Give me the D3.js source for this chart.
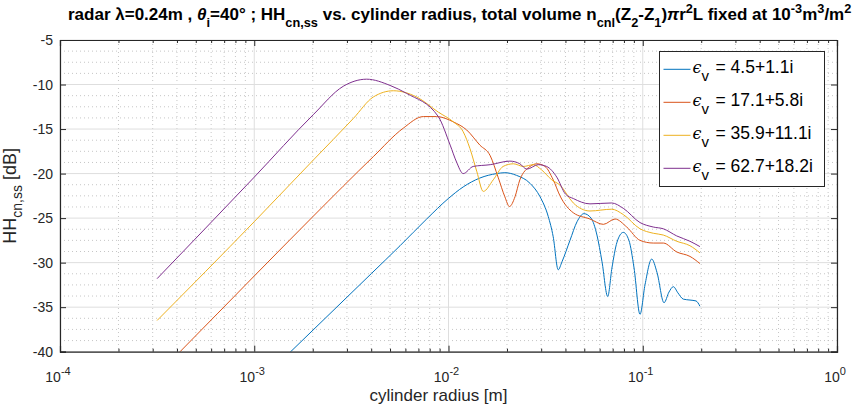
<!DOCTYPE html>
<html>
<head>
<meta charset="utf-8">
<script src="https://cdn.jsdelivr.net/npm/d3@7"></script>
<style>
  body { margin: 0; background: #fff; }
  svg text { font-family: "Liberation Sans", Arial, sans-serif; }
</style>
</head>
<body>
<div id="container"></div>
<script>
// values: cylinder radius [m] and HH_cn,ss [dB]
const legendLabels = ["4.5+1.1i", "17.1+5.8i", "35.9+11.1i", "62.7+18.2i"];
const colors = ["#0072BD", "#D95319", "#EDB120", "#7E2F8E"];

const blueR = [3.16e-4, 1.54e-3, 4.02e-3, 5.63e-3, 7.72e-3, 9.98e-3, 1.19e-2, 1.45e-2, 1.77e-2, 1.95e-2, 2.24e-2, 2.63e-2, 2.96e-2, 3.26e-2, 3.46e-2, 3.67e-2, 3.84e-2, 4.22e-2, 4.59e-2, 4.98e-2, 5.42e-2, 5.81e-2, 6.17e-2, 6.60e-2, 6.94e-2, 7.37e-2, 7.94e-2, 8.49e-2, 9.02e-2, 9.68e-2, 0.1027, 0.1112, 0.1184, 0.1287, 0.1365, 0.1437, 0.1518, 0.1618, 0.175, 0.188, 0.197];
const blueDb = [-54.5, -40.0, -31.2, -28.1, -25.1, -22.8, -21.5, -20.5, -20.0, -19.9, -20.2, -21.1, -22.6, -24.8, -27.1, -30.8, -29.9, -27.5, -25.4, -24.5, -25.0, -26.9, -29.9, -33.8, -30.6, -27.7, -26.6, -27.5, -30.6, -35.8, -32.5, -29.6, -31.1, -34.5, -33.3, -32.7, -33.4, -34.1, -34.2, -34.3, -34.9];

const orangeR = [3.16e-4, 4.15e-4, 1.0e-3, 2.01e-3, 4.10e-3, 5.85e-3, 7.42e-3, 8.69e-3, 1.06e-2, 1.24e-2, 1.45e-2, 1.64e-2, 1.80e-2, 1.95e-2, 2.06e-2, 2.20e-2, 2.33e-2, 2.63e-2, 2.85e-2, 3.14e-2, 3.46e-2, 3.75e-2, 4.39e-2, 5.35e-2, 6.27e-2, 7.20e-2, 8.27e-2, 9.68e-2, 0.1133, 0.1276, 0.1496, 0.175, 0.197];
const orangeDb = [-42.6, -40.0, -31.5, -24.8, -18.1, -14.9, -13.6, -13.6, -14.2, -15.1, -16.8, -18.0, -20.4, -22.6, -23.7, -22.6, -20.7, -19.2, -18.9, -19.2, -20.7, -22.5, -24.4, -25.1, -25.7, -25.1, -26.0, -27.5, -27.8, -27.8, -28.8, -29.3, -30.1];

const yellowR = [3.16e-4, 1.0e-3, 2.01e-3, 3.24e-3, 4.10e-3, 5.20e-3, 6.86e-3, 8.86e-3, 1.06e-2, 1.19e-2, 1.29e-2, 1.40e-2, 1.51e-2, 1.70e-2, 1.91e-2, 2.16e-2, 2.43e-2, 2.73e-2, 3.02e-2, 3.40e-2, 3.75e-2, 4.39e-2, 5.35e-2, 6.92e-2, 7.94e-2, 9.68e-2, 0.1133, 0.1276, 0.1496, 0.175, 0.197];
const yellowDb = [-36.5, -25.4, -18.5, -13.8, -11.4, -10.7, -11.4, -13.1, -14.2, -15.3, -17.2, -19.8, -22.0, -20.7, -19.2, -18.9, -19.2, -19.0, -19.6, -20.7, -21.3, -23.3, -24.2, -24.0, -24.6, -26.2, -26.7, -26.9, -27.6, -28.1, -28.9];

const purpleR = [3.16e-4, 1.0e-3, 2.01e-3, 2.87e-3, 3.79e-3, 5.0e-3, 6.09e-3, 8.86e-3, 1.02e-2, 1.10e-2, 1.19e-2, 1.34e-2, 1.64e-2, 2.07e-2, 2.33e-2, 2.53e-2, 2.90e-2, 3.20e-2, 3.61e-2, 4.0e-2, 4.39e-2, 5.35e-2, 6.92e-2, 7.94e-2, 9.68e-2, 0.1133, 0.1276, 0.1496, 0.175, 0.197];
const purpleDb = [-31.8, -20.4, -13.4, -10.2, -9.4, -10.1, -11.0, -13.6, -16.8, -18.7, -20.0, -19.2, -19.0, -18.6, -18.9, -19.5, -19.0, -19.2, -20.4, -22.3, -22.8, -23.4, -23.3, -23.9, -25.5, -26.0, -26.2, -27.0, -27.6, -28.2];

const xTickExp = [-4, -3, -2, -1, 0];
const yTicks = [-40, -35, -30, -25, -20, -15, -10, -5];

const series = [
  { r: blueR, db: blueDb },
  { r: orangeR, db: orangeDb },
  { r: yellowR, db: yellowDb },
  { r: purpleR, db: purpleDb }
];

const W = 858, H = 412;
const plot = { left: 60, right: 837, top: 40, bottom: 351.7 };

const svg = d3.select("#container").append("svg")
  .attr("width", W).attr("height", H);

const x = d3.scaleLog().domain([1e-4, 1]).range([plot.left, plot.right]);
const y = d3.scaleLinear().domain([-40, -5]).range([plot.bottom, plot.top]);

// grid: minor dotted first, then major solid
const minorX = [];
for (let e = -4; e < 0; e++) for (let m = 2; m <= 9; m++) minorX.push(m * Math.pow(10, e));
const minorY = [];
for (let v = -40; v <= -5; v += 1.25) if (v % 5 !== 0) minorY.push(v);

const grid = svg.append("g");
grid.selectAll(".mx").data(minorX).join("line")
  .attr("x1", d => x(d)).attr("x2", d => x(d))
  .attr("y1", plot.top).attr("y2", plot.bottom)
  .attr("stroke", "#b8b8b8").attr("stroke-width", 0.8).attr("stroke-dasharray", "1,3");
grid.selectAll(".my").data(minorY).join("line")
  .attr("x1", plot.left).attr("x2", plot.right)
  .attr("y1", d => y(d)).attr("y2", d => y(d))
  .attr("stroke", "#b8b8b8").attr("stroke-width", 0.8).attr("stroke-dasharray", "1,3");
grid.selectAll(".gx").data(xTickExp.map(e => Math.pow(10, e))).join("line")
  .attr("x1", d => x(d)).attr("x2", d => x(d))
  .attr("y1", plot.top).attr("y2", plot.bottom)
  .attr("stroke", "#dedede").attr("stroke-width", 1);
grid.selectAll(".gy").data(yTicks).join("line")
  .attr("x1", plot.left).attr("x2", plot.right)
  .attr("y1", d => y(d)).attr("y2", d => y(d))
  .attr("stroke", "#dedede").attr("stroke-width", 1);

// clip for the curves
svg.append("clipPath").attr("id", "clip").append("rect")
  .attr("x", plot.left).attr("y", plot.top)
  .attr("width", plot.right - plot.left).attr("height", plot.bottom - plot.top);

const line = d3.line()
  .x(d => x(d[0])).y(d => y(d[1]))
  .curve(d3.curveMonotoneX);

svg.append("g").attr("clip-path", "url(#clip)")
  .selectAll("path").data(series).join("path")
  .attr("d", s => line(s.r.map((r, i) => [r, s.db[i]])))
  .attr("fill", "none")
  .attr("stroke", (s, i) => colors[i])
  .attr("stroke-width", 1);

// axes (ticks inside, like matlab)
const axCol = "#262626";
const xAxisB = d3.axisBottom(x).tickValues(xTickExp.map(e => Math.pow(10, e))).tickSize(-6).tickFormat("");
const xAxisT = d3.axisTop(x).tickValues(xTickExp.map(e => Math.pow(10, e))).tickSize(-6).tickFormat("");
const yAxisL = d3.axisLeft(y).tickValues(yTicks).tickSize(-6).tickFormat("");
const yAxisR = d3.axisRight(y).tickValues(yTicks).tickSize(-6).tickFormat("");

function styleAxis(g) {
  g.selectAll("path").attr("stroke", axCol).attr("stroke-width", 1.2);
  g.selectAll("line").attr("stroke", axCol).attr("stroke-width", 1);
}
svg.append("g").attr("transform", `translate(0,${plot.bottom})`).call(xAxisB).call(styleAxis);
svg.append("g").attr("transform", `translate(0,${plot.top})`).call(xAxisT).call(styleAxis);
svg.append("g").attr("transform", `translate(${plot.left},0)`).call(yAxisL).call(styleAxis);
svg.append("g").attr("transform", `translate(${plot.right},0)`).call(yAxisR).call(styleAxis);

// minor x ticks
svg.append("g").attr("transform", `translate(0,${plot.bottom})`)
  .call(d3.axisBottom(x).tickValues(minorX).tickSize(-3).tickFormat("")).call(styleAxis)
  .select("path").remove();
svg.append("g").attr("transform", `translate(0,${plot.top})`)
  .call(d3.axisTop(x).tickValues(minorX).tickSize(-3).tickFormat("")).call(styleAxis)
  .select("path").remove();

// tick labels
svg.append("g").selectAll("text").data(yTicks).join("text")
  .attr("x", plot.left - 7).attr("y", d => y(d) + 5)
  .attr("text-anchor", "end").attr("font-size", 14).attr("fill", axCol)
  .text(d => d);

const xl = svg.append("g").selectAll("text").data(xTickExp).join("text")
  .attr("x", d => x(Math.pow(10, d)) - 2).attr("y", plot.bottom + 30)
  .attr("text-anchor", "middle").attr("font-size", 14).attr("fill", axCol);
xl.append("tspan").text("10");
xl.append("tspan").attr("dy", -7).attr("font-size", 11).text(d => d === 0 ? "0" : "-" + Math.abs(d));

// axis labels
svg.append("text")
  .attr("x", (plot.left + plot.right) / 2 - 10).attr("y", 401)
  .attr("text-anchor", "middle").attr("font-size", 17).attr("fill", axCol)
  .text("cylinder radius [m]");

const yl = svg.append("text")
  .attr("transform", `translate(16,${(plot.top + plot.bottom) / 2}) rotate(-90)`)
  .attr("text-anchor", "middle").attr("font-size", 18).attr("fill", axCol);
yl.append("tspan").text("HH");
yl.append("tspan").attr("dy", 6).attr("font-size", 14).text("cn,ss");
yl.append("tspan").attr("dy", -6).text(" [dB]");

// title with sub/superscripts
const titleParts = [
  ["radar ", 0], ["λ", 0], ["=0.24m , ", 0], ["θ", 0, "italic"], ["i", -1], ["=40° ; HH", 0], ["cn,ss", -1],
  [" vs. cylinder radius, total volume n", 0], ["cnl", -1], ["(Z", 0], ["2", -1], ["-Z", 0], ["1", -1],
  [")", 0], ["π", 0, "italic"], ["r", 0], ["2", 1], ["L fixed at 10", 0], ["-3", 1], ["m", 0], ["3", 1], ["/m", 0], ["2", 1]
];
const title = svg.append("text")
  .attr("x", 0).attr("y", 0)
  .attr("font-size", 16).attr("font-weight", "bold").attr("fill", "#000");
let cur = 0;
titleParts.forEach(p => {
  const target = p[1] === -1 ? 7 : p[1] === 1 ? -7 : 0;
  const ts = title.append("tspan").attr("dy", target - cur).text(p[0]);
  if (p[1] !== 0) ts.attr("font-size", 12);
  if (p[2]) ts.attr("font-style", p[2]);
  cur = target;
});
const tw = title.node().getComputedTextLength();
title.attr("transform", `translate(68,20) scale(${784 / tw},1)`);

// legend
const leg = { x: 659.5, y: 51.5, w: 165, h: 135 };
svg.append("rect").attr("x", leg.x).attr("y", leg.y).attr("width", leg.w).attr("height", leg.h)
  .attr("fill", "#fff").attr("stroke", axCol).attr("stroke-width", 1);
const items = svg.append("g").selectAll("g").data(legendLabels).join("g")
  .attr("transform", (d, i) => `translate(${leg.x},${69.3 + i * 33})`);
items.append("line").attr("x1", 4).attr("x2", 31).attr("y1", 0).attr("y2", 0)
  .attr("stroke", (d, i) => colors[i]).attr("stroke-width", 1);
const lt = items.append("text").attr("x", 33).attr("y", 4).attr("font-size", 17.5).attr("fill", "#000");
lt.append("tspan").attr("font-family", "DejaVu Serif").attr("font-style", "italic").attr("font-size", 16).text("ϵ");
lt.append("tspan").attr("dy", 8).attr("font-size", 15).text("v");
lt.append("tspan").attr("x", 56).attr("dy", -8).text(d => "= " + d);
</script>
</body>
</html>
